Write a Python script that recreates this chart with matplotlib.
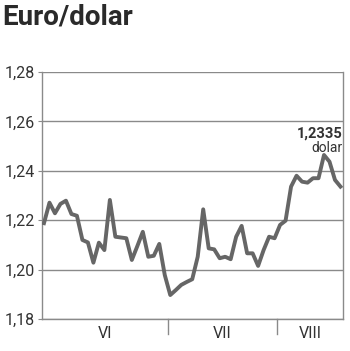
import matplotlib
matplotlib.use("Agg")
import matplotlib.pyplot as plt

rates = [1.2188, 1.2271, 1.2228, 1.2266, 1.2279, 1.2225, 1.2218, 1.2120, 1.2110, 1.2028,
         1.2109, 1.2079, 1.2282, 1.2133, 1.2130, 1.2127, 1.2039, 1.2095, 1.2153, 1.2052,
         1.2056, 1.2104, 1.1978, 1.1897, 1.1917, 1.1938, 1.1950, 1.1961, 1.2052, 1.2244,
         1.2086, 1.2082, 1.2046, 1.2052, 1.2042, 1.2133, 1.2177, 1.2066, 1.2066, 1.2015,
         1.2079, 1.2133, 1.2127, 1.2181, 1.2198, 1.2336, 1.2380, 1.2356, 1.2352, 1.2370,
         1.2370, 1.2464, 1.2437, 1.2363, 1.2336]
months = ["VI", "VII", "VIII"]
month_bounds = [22.6, 42.4]
yticks = [1.18, 1.20, 1.22, 1.24, 1.26, 1.28]
last_label = "1,2335"
unit = "dolar"
title = "Euro/dolar"

plt.rcParams['font.family'] = ['Roboto', 'DejaVu Sans']

fig = plt.figure(figsize=(3.5, 3.51), dpi=100)
ax = fig.add_axes([42/350, 1-319/351, (343-42)/350, (319-72)/351])

x = list(range(len(rates)))
ax.plot(x, rates, color="#666666", lw=2.8, solid_joinstyle="round", zorder=3)

xmin, xmax = -0.36, 54.46
ax.set_xlim(xmin, xmax)
ax.set_ylim(1.18, 1.28)
ax.set_yticks(yticks)
ax.set_yticklabels([f"{v:.2f}".replace(".", ",") for v in yticks])
ax.yaxis.grid(True, color="#8a8a8a", lw=1.0)
ax.set_axisbelow(True)
ax.tick_params(axis="y", length=3, color="#8a8a8a", labelsize=11.5, labelcolor="#333333", pad=2)
ax.set_xticks([])
for s in ["left", "right", "bottom"]:
    ax.spines[s].set_color("#8a8a8a")
    ax.spines[s].set_linewidth(1.0)
ax.spines["top"].set_visible(False)

# month separators
for b in month_bounds:
    ax.plot([b, b], [0, -0.06], transform=ax.get_xaxis_transform(), color="#8a8a8a",
            lw=1.0, clip_on=False)
edges = [xmin] + month_bounds + [xmax]
for i, m in enumerate(months):
    ax.text((edges[i] + edges[i+1]) / 2, -0.06, m, transform=ax.get_xaxis_transform(),
            ha="center", va="center", fontsize=11.5, color="#333333")

ax.text(xmax - 0.1, 1.2535, last_label, ha="right", va="baseline", fontsize=10.5,
        fontweight="bold", color="#333333")
ax.text(xmax - 0.1, 1.2478, unit, ha="right", va="baseline", fontsize=10, color="#333333")

fig.text(2/350, 1-4/351, title, ha="left", va="top", fontsize=20, fontweight="bold",
         color="#2a2a2a")

fig.savefig("out.png", dpi=100)
